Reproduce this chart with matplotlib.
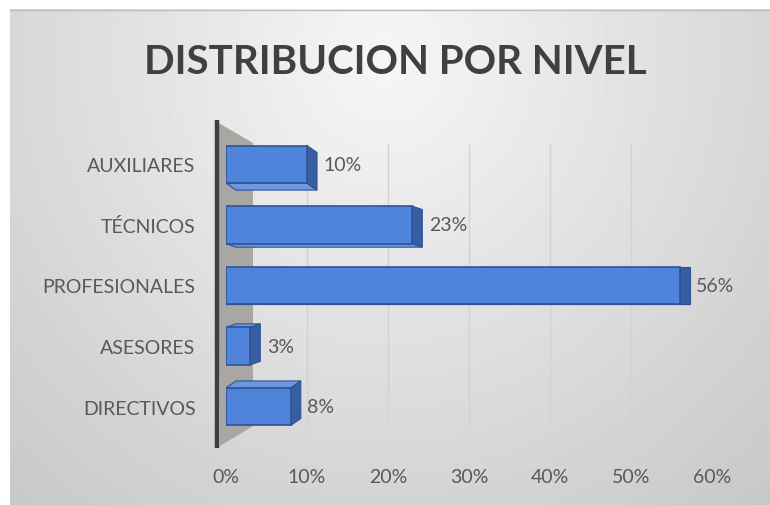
import numpy as np
import matplotlib
matplotlib.use("Agg")
import matplotlib.pyplot as plt
from matplotlib.patches import Polygon
from matplotlib.ticker import PercentFormatter

# ---- data ----
categories = ["DIRECTIVOS", "ASESORES", "PROFESIONALES", "TÉCNICOS", "AUXILIARES"]
values = [8, 3, 56, 23, 10]          # percent
x_ticks = [0, 10, 20, 30, 40, 50, 60]
title = "DISTRIBUCION POR NIVEL"

W, H = 770, 506
DPI = 100
plt.rcParams['font.family'] = ['Lato', 'DejaVu Sans']

fig = plt.figure(figsize=(W / DPI, H / DPI), dpi=DPI)
fig.patch.set_facecolor("white")

# ---- background (pixel coordinates) ----
bg = fig.add_axes([0, 0, 1, 1], zorder=0)
bg.set_xlim(0, W)
bg.set_ylim(H, 0)
bg.axis("off")
yy, xx = np.mgrid[10:H, 10:W]
d = np.sqrt(((xx - 385) / 1.0) ** 2 + ((yy - 60) / 1.05) ** 2)
g = np.clip(0.965 - d * 0.00032, 0, 1)
bg.imshow(g, cmap="gray", vmin=0, vmax=1, extent=(10, W, H, 10),
          aspect="auto", interpolation="bilinear")
bg.plot([10, W], [10.5, 10.5], color="#bdbdbd", lw=1)

# side wall of the 3D plot
wall = Polygon([(217, 123), (253, 144), (253, 427), (220, 447)], closed=True,
               facecolor="#a9a7a3", edgecolor="none")
bg.add_patch(wall)
bg.plot([217, 217], [121, 449], color="#3f3f3f", lw=3.2, solid_capstyle="butt")

# title
bg.text(395, 62, title, ha="center", va="center", fontsize=29,
        fontweight="bold", color="#404040")

# ---- main axes ----
L, R, T, B = 226, 712, 135, 438
ax = fig.add_axes([L / W, 1 - B / H, (R - L) / W, (B - T) / H], zorder=1)
ax.patch.set_alpha(0)
xmax = 60
ax.set_xlim(0, xmax)
ax.set_ylim(-0.5, len(categories) - 0.5)
for s in ax.spines.values():
    s.set_visible(False)

px_x = (R - L) / xmax        # pixels per percent
px_y = (B - T) / len(categories)

# faint gridlines
for t in x_ticks[1:]:
    ax.axvline(t, ymin=(B - 427) / (B - T), ymax=(B - 145) / (B - T),
               color="#d2d2d2", lw=1, zorder=0.5)

ax.set_xticks(x_ticks)
ax.xaxis.set_major_formatter(PercentFormatter(decimals=0))
ax.set_yticks(range(len(categories)))
ax.set_yticklabels(categories)
ax.tick_params(axis="both", length=0, colors="#595959", labelsize=14)
ax.tick_params(axis="y", pad=22)
ax.tick_params(axis="x", pad=22)

front_c = "#5083da"
edge_c = "#2f5496"
side_c = "#375da3"
top_c = "#6d97de"

bh = 0.62
dx = 10 / px_x
for i, (cat, v) in enumerate(zip(categories, values)):
    y0, y1 = i - bh / 2, i + bh / 2
    dy = (2 - i) * 3.5 / px_y
    # top / bottom face
    yy_face = y1 if dy > 0 else y0
    ax.add_patch(Polygon([(0, yy_face), (v, yy_face), (v + dx, yy_face + dy),
                          (dx, yy_face + dy)], closed=True, facecolor=top_c,
                         edgecolor=edge_c, lw=0.8, zorder=2))
    # side face
    ax.add_patch(Polygon([(v, y0), (v + dx, y0 + dy), (v + dx, y1 + dy), (v, y1)],
                         closed=True, facecolor=side_c, edgecolor=edge_c,
                         lw=0.8, zorder=2))
    # front face
    ax.barh(i, v, height=bh, left=0, color=front_c, edgecolor=edge_c,
            linewidth=1.2, zorder=3)
    ax.annotate(f"{v}%", xy=(v, i), xytext=(12, 0), textcoords="offset points",
                ha="left", va="center", fontsize=14, color="#595959", zorder=4)

fig.savefig("out.png", dpi=DPI)
